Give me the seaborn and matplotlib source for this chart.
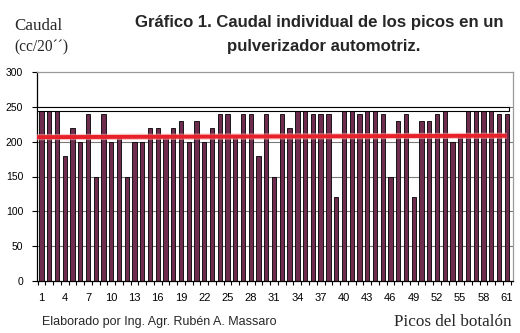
import matplotlib
matplotlib.use("Agg")
import matplotlib.pyplot as plt
from matplotlib.ticker import FixedLocator
import seaborn as sns
import pandas as pd

# ---- data ----
picos = list(range(1, 62))
caudal = [250, 250, 250, 180, 220, 200, 240, 150, 240, 200,
          210, 150, 200, 200, 220, 220, 210, 220, 230, 200,
          230, 200, 220, 240, 240, 210, 240, 240, 180, 240,
          150, 240, 220, 250, 250, 240, 240, 240, 120, 250,
          250, 240, 250, 250, 240, 150, 230, 240, 120, 230,
          230, 240, 250, 200, 210, 250, 250, 250, 250, 240,
          240]
trend_values = [206.5, 208.5]          # red reference line, left and right ends
y_ticks = [0, 50, 100, 150, 200, 250, 300]
x_label_picos = list(range(1, 62, 3))  # 1, 4, 7, ... 61

title_lines = ["Gráfico 1. Caudal individual de los picos en un",
               "pulverizador automotriz."]
ylabel_lines = ["Caudal", "(cc/20´´)"]
xlabel = "Picos del botalón"
credit = "Elaborado por Ing. Agr. Rubén A. Massaro"

# ---- drawing ----
sns.set_theme(style="white")
plt.rcParams["font.family"] = ["Liberation Sans", "DejaVu Sans"]

W, H = 520, 333
fig = plt.figure(figsize=(W / 100, H / 100), dpi=100)
left, right, top, bottom = 36.5, 512.5, 72.0, 281.0
ax = fig.add_axes([left / W, 1 - bottom / H, (right - left) / W, (bottom - top) / H])

df = pd.DataFrame({"pico": picos, "caudal": caudal})
sns.barplot(data=df, x="pico", y="caudal", color="#6e2d4e", saturation=1,
            edgecolor="black", linewidth=0.6, width=0.55, ax=ax, zorder=2)

n = len(picos)
ax.set_xlim(-0.65, n - 1 + 0.75)
ax.set_ylim(0, 300)

# gridlines
for v in y_ticks[1:-1]:
    ax.axhline(v, color="#7a7a7a", lw=0.8, zorder=1)

# white band just under the 250 line (as in the reference)
ax.axhspan(244, 250, xmin=0, xmax=0.992, facecolor="white",
           edgecolor="black", lw=0.8, zorder=3)

# red reference line
ax.plot([-0.65, n - 1], trend_values, color="#f4a0a0", lw=4.5, alpha=0.6,
        zorder=4, solid_capstyle="butt")
ax.plot([-0.65, n - 1], trend_values, color="#e8202a", lw=2.8, zorder=5,
        solid_capstyle="butt")

# axes styling
for s in ["top", "right"]:
    ax.spines[s].set_color("#9a9a9a")
    ax.spines[s].set_linewidth(0.9)
for s in ["left", "bottom"]:
    ax.spines[s].set_color("black")
    ax.spines[s].set_linewidth(0.9)

ax.set_yticks(y_ticks)
ax.set_yticklabels([str(v) for v in y_ticks], fontsize=7.5, color="black")
ax.tick_params(axis="y", which="major", left=True, length=3.5, width=0.8,
               pad=6, color="black")

pos_of = {p: i for i, p in enumerate(picos)}
ax.set_xticks([pos_of[p] for p in x_label_picos])
ax.set_xticklabels([str(p) for p in x_label_picos], fontsize=8, color="black")
ax.tick_params(axis="x", which="major", bottom=True, length=0, pad=8.5)
ax.xaxis.set_minor_locator(FixedLocator([i - 0.5 for i in range(n + 1)]))
ax.tick_params(axis="x", which="minor", bottom=True, length=3, width=0.8,
               color="black")
ax.set_xlabel("")
ax.set_ylabel("")
ax.grid(False)

# texts
def fx(px):
    return px / W

def fy(py):
    return 1 - py / H

fig.text(fx(319), fy(27.5), title_lines[0], ha="center", va="baseline",
         fontsize=12.1, fontweight="bold")
fig.text(fx(323.5), fy(50.5), title_lines[1], ha="center", va="baseline",
         fontsize=12.1, fontweight="bold")

serif = ["Liberation Serif", "DejaVu Serif"]
fig.text(fx(14), fy(30), ylabel_lines[0], ha="left", va="baseline",
         fontsize=12.2, family=serif)
fig.text(fx(14), fy(51.5), ylabel_lines[1], ha="left", va="baseline",
         fontsize=11.2, family=serif)
fig.text(fx(512), fy(326.5), xlabel, ha="right", va="baseline",
         fontsize=12.3, family=serif)
fig.text(fx(42), fy(325.5), credit, ha="left", va="baseline", fontsize=9)

fig.savefig("out.png", dpi=100, facecolor="white")
